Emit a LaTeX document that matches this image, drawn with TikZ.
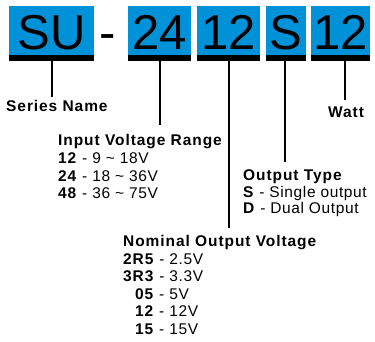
\documentclass[tikz,border=0pt]{standalone}
\usepackage{fontspec}
\setmainfont{Liberation Sans}
\newfontfamily\lblfont[LetterSpace=4,BoldFeatures={LetterSpace=6}]{Liberation Sans}
\definecolor{boxblue}{RGB}{0,146,216}
\tikzset{
  bluebox/.style={fill=boxblue, draw=none, inner sep=0pt, anchor=north west},
  bigtxt/.style={font=\fontsize{49}{50}\selectfont, inner sep=0pt, anchor=base},
  lbl/.style={font=\lblfont\fontsize{15.5}{17}\selectfont, inner sep=0pt, anchor=base west},
  bar/.style={fill=black},
  conn/.style={draw=black, line width=2pt},
}
\begin{document}
\begin{tikzpicture}[x=1pt,y=-1pt]
\useasboundingbox (0,0) rectangle (375,342);
% boxes
\node[bluebox, minimum width=85pt, minimum height=49pt] (su) at (9,6) {};
\node[bluebox, minimum width=63pt, minimum height=49pt] (vin) at (128,6) {};
\node[bluebox, minimum width=63pt, minimum height=49pt] (vout) at (197,6) {};
\node[bluebox, minimum width=40pt, minimum height=49pt] (typ) at (266,6) {};
\node[bluebox, minimum width=59pt, minimum height=49pt] (wat) at (311,6) {};
% box texts
\node[bigtxt] (tsu) at (51.5,50) {SU};
\node[bigtxt] (tdash) at (108,50) {-};
\node[bigtxt] (tvin) at (159.5,50) {24};
\node[bigtxt] (tvout) at (228.5,50) {12};
\node[bigtxt] (ttyp) at (286,50) {S};
\node[bigtxt] (twat) at (340.5,50) {12};
% bars
\foreach \b in {su,vin,vout,typ,wat}
  \fill[bar] (\b.south west) rectangle ([yshift=-6pt]\b.south east);
% label texts
\node[lbl] (lsn) at (6,112) {\textbf{Series Name}};
\node[lbl] (lw) at (328,118) {\textbf{Watt}};
\node[lbl] (liv) at (58,146) {\textbf{Input Voltage Range}};
\node[lbl] (liv1) at (58,163.5) {\textbf{12} - 9 \textasciitilde\ 18V};
\node[lbl] (liv2) at (58,181.3) {\textbf{24} - 18 \textasciitilde\ 36V};
\node[lbl] (liv3) at (58,199) {\textbf{48} - 36 \textasciitilde\ 75V};
\node[lbl] (lot) at (243,180) {\textbf{Output Type}};
\node[lbl] (lot1) at (243,197) {\textbf{S} - Single output};
\node[lbl] (lot2) at (243,214) {\textbf{D} - Dual Output};
\node[lbl] (lnv) at (123,246) {\textbf{Nominal Output Voltage}};
\node[lbl] (lnv1) at (123,264) {\textbf{2R5} - 2.5V};
\node[lbl] (lnv2) at (123,281.5) {\textbf{3R3} - 3.3V};
\node[lbl] (lnv3) at (135,299) {\textbf{05} - 5V};
\node[lbl] (lnv4) at (135,316.5) {\textbf{12} - 12V};
\node[lbl] (lnv5) at (135,334) {\textbf{15} - 15V};
% connector ends
\coordinate (esu) at (52,97);
\coordinate (evin) at (160,125);
\coordinate (evout) at (229,228);
\coordinate (etyp) at (285,162);
\coordinate (ewat) at (345,100);
% connectors
\draw[conn] ([yshift=-6pt]su.south -| esu) -- (esu);
\draw[conn] ([yshift=-6pt]vin.south -| evin) -- (evin);
\draw[conn] ([yshift=-6pt]vout.south -| evout) -- (evout);
\draw[conn] ([yshift=-6pt]typ.south -| etyp) -- (etyp);
\draw[conn] ([yshift=-6pt]wat.south -| ewat) -- (ewat);
\end{tikzpicture}
\end{document}
